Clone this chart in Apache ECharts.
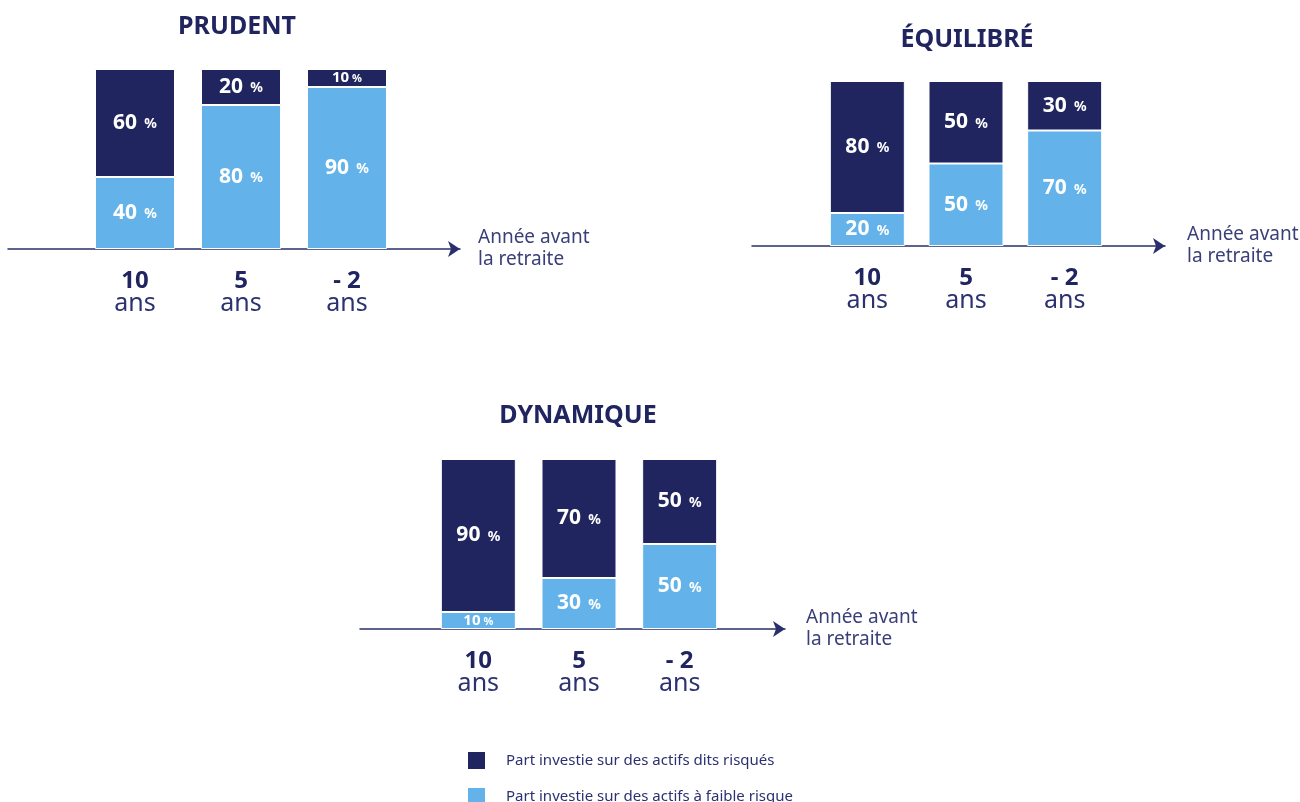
<!DOCTYPE html>
<html>
<head>
<meta charset="utf-8">
<style>
  html, body { margin: 0; padding: 0; background: #fff; }
  #chart { width: 1300px; height: 802px; }
</style>
<script src="https://cdn.jsdelivr.net/npm/echarts@6/dist/echarts.min.js"></script>
</head>
<body>
<div id="chart"></div>
<script>
// données
var categories = ["10", "5", "- 2"];
var titles = ["PRUDENT", "ÉQUILIBRÉ", "DYNAMIQUE"];
var riskName = "Part investie sur des actifs dits risqués";
var safeName = "Part investie sur des actifs à faible risque";
var prudentSafe = [40, 80, 90];
var prudentRisk = [60, 20, 10];
var equilibreSafe = [20, 50, 70];
var equilibreRisk = [80, 50, 30];
var dynamiqueSafe = [10, 30, 50];
var dynamiqueRisk = [90, 70, 50];

var DARK = "#20255f";
var LIGHT = "#63b3ea";
var FONT = "Noto Sans";

// position des blocs (barres + axe fléché)
var panels = [
  { title: titles[0], tx: 237, ty: 27, safe: prudentSafe, risk: prudentRisk,
    bars: { left: 82, top: 69, width: 318, height: 180 }, barWidth: 80,
    line: { left: 8, top: 69, width: 452, height: 180 }, nameGap: 18 },
  { title: titles[1], tx: 967, ty: 40, safe: equilibreSafe, risk: equilibreRisk,
    bars: { left: 818, top: 81, width: 296, height: 165 }, barWidth: 75,
    line: { left: 752, top: 81, width: 413, height: 165 }, nameGap: 22 },
  { title: titles[2], tx: 578, ty: 416, safe: dynamiqueSafe, risk: dynamiqueRisk,
    bars: { left: 428, top: 459, width: 302, height: 170 }, barWidth: 75,
    line: { left: 360, top: 459, width: 425, height: 170 }, nameGap: 21 }
];

function pctLabel(p) {
  return p.value <= 10 ? "{s|" + p.value + "}{sp| %}" : "{v|" + p.value + "}{p|  %}";
}
var labelRich = {
  v: { color: "#fff", fontSize: 21, fontWeight: "bold", fontFamily: FONT },
  p: { color: "#fff", fontSize: 14, fontWeight: "bold", fontFamily: FONT, padding: [3, 0, 0, 0] },
  s: { color: "#fff", fontSize: 15, fontWeight: "bold", fontFamily: FONT },
  sp: { color: "#fff", fontSize: 11, fontWeight: "bold", fontFamily: FONT, padding: [2, 0, 0, 0] }
};

var grid = [], xAxis = [], yAxis = [], series = [], graphic = [];
panels.forEach(function (pn, i) {
  var gb = i * 2, gl = i * 2 + 1;
  grid.push(pn.bars, pn.line);
  xAxis.push({
    gridIndex: gb, type: "category", data: categories,
    axisLine: { show: false }, axisTick: { show: false },
    axisLabel: {
      margin: 20,
      formatter: function (v) { return "{n|" + v + "}\n{a|ans}"; },
      rich: {
        n: { fontSize: 24, fontWeight: "bold", color: DARK, fontFamily: FONT, lineHeight: 24 },
        a: { fontSize: 25, color: "#2c3270", fontFamily: FONT, lineHeight: 22 }
      }
    }
  });
  xAxis.push({
    gridIndex: gl, type: "value", min: 0, max: 1,
    splitLine: { show: false }, axisTick: { show: false }, axisLabel: { show: false },
    axisLine: { show: true, lineStyle: { color: "#2a2f6b", width: 1.5 },
      symbol: ["none", "arrow"], symbolSize: [12, 12] },
    name: "Année avant\nla retraite", nameLocation: "end", nameGap: pn.nameGap,
    nameTextStyle: { color: "#3a3f78", fontSize: 19, fontFamily: FONT, lineHeight: 22,
      align: "left", verticalAlign: "middle", padding: [8, 0, 0, 0] }
  });
  yAxis.push({ gridIndex: gb, type: "value", min: 0, max: 100, show: false });
  yAxis.push({ gridIndex: gl, type: "value", min: 0, max: 1, show: false });
  [[safeName, pn.safe, LIGHT], [riskName, pn.risk, DARK]].forEach(function (s) {
    series.push({
      name: s[0], type: "bar", stack: "p" + i, xAxisIndex: gb, yAxisIndex: gb,
      data: s[1], barWidth: pn.barWidth,
      itemStyle: { color: s[2], borderColor: "#fff", borderWidth: 1 },
      label: { show: true, position: "inside", formatter: pctLabel, rich: labelRich },
      z: 3
    });
  });
  // titre centré sur un point
  graphic.push({
    type: "text", x: pn.tx, y: pn.ty,
    style: { text: pn.title, fill: DARK, font: "bold 25px " + FONT, textAlign: "center", textVerticalAlign: "middle" }
  });
});

function legendItem(name, top) {
  return {
    data: [name], left: 463, top: top,
    itemWidth: 17, itemHeight: 17, icon: "rect", selectedMode: false,
    itemStyle: { borderWidth: 0 },
    textStyle: { color: "#2b3170", fontSize: 15, fontFamily: FONT, padding: [0, 0, 0, 16] }
  };
}

var chart = echarts.init(document.getElementById("chart"));
chart.setOption({
  animation: false,
  textStyle: { fontFamily: FONT },
  grid: grid,
  xAxis: xAxis,
  yAxis: yAxis,
  series: series,
  graphic: graphic,
  legend: [legendItem(riskName, 747), legendItem(safeName, 783)]
});
window.addEventListener("resize", function () { chart.resize(); });
</script>
</body>
</html>
